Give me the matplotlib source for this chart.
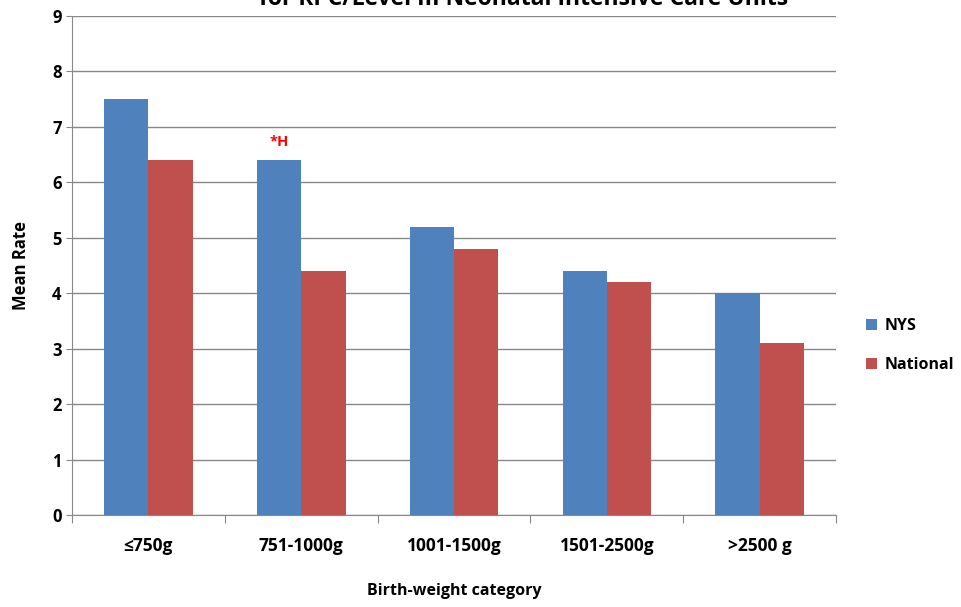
import numpy as np
import matplotlib.pyplot as plt

# Mean rate by birth-weight category, NYS vs national
categories = ["\u2264750g", "751-1000g", "1001-1500g", "1501-2500g", ">2500 g"]
nys = [7.5, 6.4, 5.2, 4.4, 4.0]
national = [6.4, 4.4, 4.8, 4.2, 3.1]
flags = ["", "*H", "", "", ""]

plt.rcParams['font.family'] = ['Open Sans', 'DejaVu Sans']
plt.rcParams['font.weight'] = 'bold'

fig = plt.figure(figsize=(9.61, 6.07), dpi=100)
ax = fig.add_axes([0.0749, 0.1516, 0.7951, 0.822])

x = np.arange(len(categories))
w = 0.29
ax.bar(x - w/2, nys, width=w, color="#4F81BD", label="NYS", zorder=3)
ax.bar(x + w/2, national, width=w, color="#C0504D", label="National", zorder=3)

for i, f in enumerate(flags):
    if f:
        ax.text(x[i] - w/2, nys[i] + 0.2, f, color="red", ha="center", va="bottom",
                fontsize=10.5, fontweight="bold")

ax.set_xlim(-0.5, len(categories) - 0.5)
ax.set_ylim(0, 9)
ax.set_yticks(np.arange(0, 10, 1))
ax.yaxis.grid(True, color="#888888", linewidth=1, zorder=0)
ax.set_axisbelow(True)

ax.set_xticks(np.arange(len(categories) + 1) - 0.5, minor=False)
ax.set_xticklabels([])
ax.set_xticks(x, minor=True)
ax.set_xticklabels(categories, minor=True, fontsize=12.5, fontweight="bold")
ax.tick_params(axis="x", which="major", length=6, color="#888888")
ax.tick_params(axis="x", which="minor", length=0, pad=16)
ax.tick_params(axis="y", length=4, color="#888888", labelsize=12)
for lab in ax.get_yticklabels():
    lab.set_fontweight("bold")

for s in ["top", "right"]:
    ax.spines[s].set_visible(False)
ax.spines["left"].set_color("#888888")
ax.spines["bottom"].set_color("#888888")

ax.set_ylabel("Mean Rate", fontsize=12, fontweight="bold", labelpad=16)
ax.set_xlabel("Birth-weight category", fontsize=11.5, fontweight="bold", labelpad=20)

leg = ax.legend(loc="center left", bbox_to_anchor=(1.02, 0.34), frameon=False,
                fontsize=11.5, handlelength=0.7, handleheight=0.7, labelspacing=1.45,
                handletextpad=0.5)

fig.text(0.545, 1 - 5/607, "for RPC/Level III Neonatal Intensive Care Units",
         ha="center", va="baseline", fontsize=16.5, fontweight="bold")

plt.savefig("out.png", dpi=100)
